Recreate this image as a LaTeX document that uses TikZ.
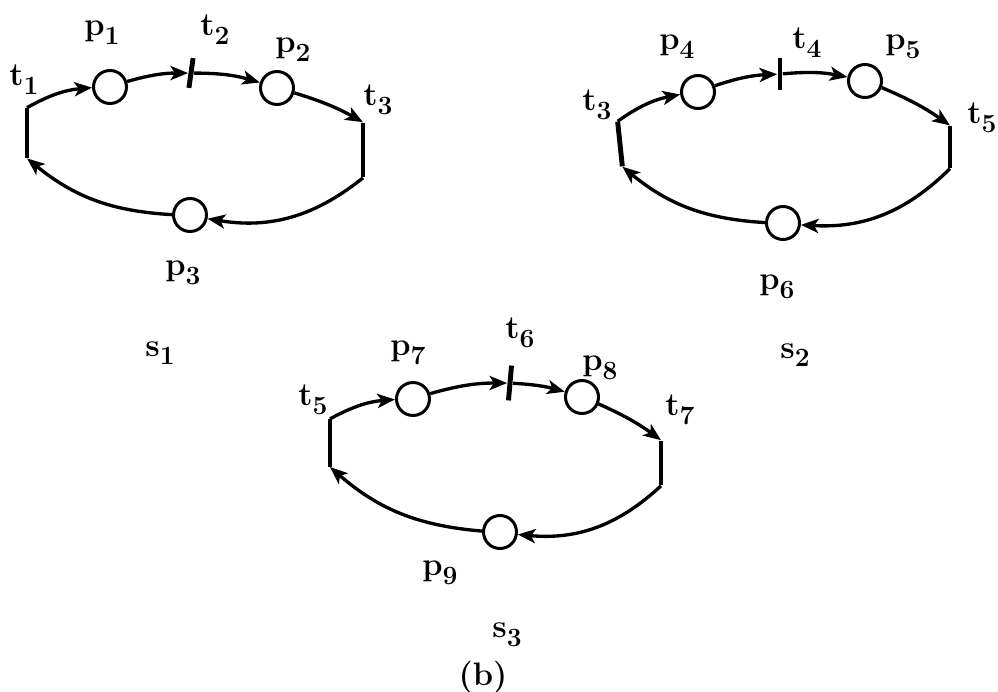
\documentclass[tikz,border=0pt]{standalone}
\usetikzlibrary{arrows.meta}
\newcommand{\subl}[2]{#1\raisebox{-0.6ex}{\fontsize{15}{16}\selectfont #2}}

\begin{document}
\begin{tikzpicture}[
    x=0.02cm,y=0.02cm,
    every node/.style={font=\fontsize{18.5}{20}\selectfont\bfseries},
    place/.style={circle, draw, line width=1.7pt, minimum size=0.66cm, inner sep=0pt},
    bar/.style={fill=black, inner sep=0pt, minimum width=2.8pt},
    flow/.style={line width=1.9pt, -{Stealth[length=10pt,width=8pt,inset=2.5pt]}},
    lbl/.style={inner sep=0pt}
]
    \useasboundingbox (0,0) rectangle (998,691);

    % net s1
    \node[bar, minimum height=1.0cm] (s1t1) at (27,558) {};
    \node[place] (s1p1) at (110,604) {};
    \node[bar, minimum height=0.6cm, rotate=-8] (s1t2) at (191,618) {};
    \node[place] (s1p2) at (277,603) {};
    \node[bar, minimum height=1.1cm] (s1t3) at (363,541) {};
    \node[place] (s1p3) at (190,476) {};

    \draw[flow] (s1t1.north) to[bend left=12] (s1p1);
    \draw[flow] (s1p1) to[bend left=8] (s1t2);
    \draw[flow] (s1t2) to[bend left=8] (s1p2);
    \draw[flow] (s1p2) to[bend left=6] (s1t3.north);
    \draw[flow] (s1t3.south) to[bend left=24] (s1p3);
    \draw[flow] (s1p3) to[bend left=18] (s1t1.south);

    \node[lbl] (l-s1t1) at (24,611) {\subl{t}{1}};
    \node[lbl] (l-s1p1) at (102,658) {\subl{p}{1}};
    \node[lbl] (l-s1t2) at (215,661) {\subl{t}{2}};
    \node[lbl] (l-s1p2) at (293,641) {\subl{p}{2}};
    \node[lbl] (l-s1t3) at (378,591) {\subl{t}{3}};
    \node[lbl] (l-s1p3) at (183,418) {\subl{p}{3}};
    \node[lbl] (l-s1) at (160,338) {\subl{s}{1}};

    % net s2
    \node[bar, minimum height=0.9cm, rotate=6] (s2t3) at (620,547) {};
    \node[place] (s2p4) at (698,599) {};
    \node[bar, minimum height=0.66cm] (s2t4) at (780,617) {};
    \node[place] (s2p5) at (865,610) {};
    \node[bar, minimum height=0.85cm] (s2t5) at (950,544) {};
    \node[place] (s2p6) at (783,468) {};

    \draw[flow] (s2t3.north) to[bend left=12] (s2p4);
    \draw[flow] (s2p4) to[bend left=8] (s2t4);
    \draw[flow] (s2t4) to[bend left=8] (s2p5);
    \draw[flow] (s2p5) to[bend left=6] (s2t5.north);
    \draw[flow] (s2t5.south) to[bend left=24] (s2p6);
    \draw[flow] (s2p6) to[bend left=18] (s2t3.south);

    \node[lbl] (l-s2t3) at (597,586) {\subl{t}{3}};
    \node[lbl] (l-s2p4) at (677,644) {\subl{p}{4}};
    \node[lbl] (l-s2t4) at (807,648) {\subl{t}{4}};
    \node[lbl] (l-s2p5) at (903,644) {\subl{p}{5}};
    \node[lbl] (l-s2t5) at (982,573) {\subl{t}{5}};
    \node[lbl] (l-s2p6) at (777,404) {\subl{p}{6}};
    \node[lbl] (l-s2) at (795,336) {\subl{s}{2}};

    % net s3
    \node[bar, minimum height=0.95cm] (s3t5) at (330,248) {};
    \node[place] (s3p7) at (413,292) {};
    \node[bar, minimum height=0.7cm, rotate=-5] (s3t6) at (510,308) {};
    \node[place] (s3p8) at (582,294) {};
    \node[bar, minimum height=0.9cm] (s3t7) at (661,228) {};
    \node[place] (s3p9) at (500,159) {};

    \draw[flow] (s3t5.north) to[bend left=12] (s3p7);
    \draw[flow] (s3p7) to[bend left=8] (s3t6);
    \draw[flow] (s3t6) to[bend left=6] (s3p8);
    \draw[flow] (s3p8) to[bend left=6] (s3t7.north);
    \draw[flow] (s3t7.south) to[bend left=24] (s3p9);
    \draw[flow] (s3p9) to[bend left=18] (s3t5.south);

    \node[lbl] (l-s3t5) at (313,291) {\subl{t}{5}};
    \node[lbl] (l-s3p7) at (408,338) {\subl{p}{7}};
    \node[lbl] (l-s3t6) at (520,358) {\subl{t}{6}};
    \node[lbl] (l-s3p8) at (600,323) {\subl{p}{8}};
    \node[lbl] (l-s3t7) at (680,281) {\subl{t}{7}};
    \node[lbl] (l-s3p9) at (440,118) {\subl{p}{9}};
    \node[lbl] (l-s3) at (507,56) {\subl{s}{3}};
    \node[lbl] (l-b) at (483,14) {(b)};
\end{tikzpicture}
\end{document}
